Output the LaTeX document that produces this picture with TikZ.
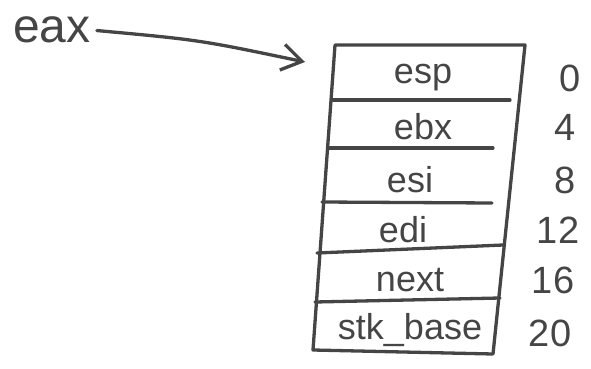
\documentclass[tikz,border=0pt]{standalone}
\usepackage{fontspec}
\setmainfont{Liberation Sans}
\usetikzlibrary{arrows.meta}
\definecolor{pen}{HTML}{454545}
\begin{document}
\begin{tikzpicture}[x=1pt,y=-1pt]
	\useasboundingbox (0,0) rectangle (591,369);
	\tikzstyle{field}=[inner sep=0pt, text=pen, font=\fontsize{36}{40}\selectfont]
	\tikzstyle{offset}=[inner sep=0pt, text=pen, font=\fontsize{38}{42}\selectfont]
	\tikzstyle{stroke}=[draw=pen, line width=3.3pt, line cap=round, line join=round]
	% register pointing to the struct
	\node[field, font=\fontsize{48}{52}\selectfont] (eax) at (52,30) {eax};
	\coordinate (tip) at (305,62);
	% box corners
	\coordinate (TL) at (335,45);
	\coordinate (TR) at (525,45);
	\coordinate (BR) at (493,354);
	\coordinate (BL) at (313,350);
	\draw[stroke] (TL) -- (TR) -- (BR) -- (BL) -- cycle;
	\draw[stroke] (333,100) -- (510,100);
	\draw[stroke] (328,148) -- (493,148);
	\draw[stroke] (322,202) -- (492,203);
	\draw[stroke] (317,253) -- (503,245);
	\draw[stroke] (315,302) -- (500,298);
	% fields
	\node[field] (esp) at (423,78) {esp};
	\node[field] (ebx) at (423,127) {ebx};
	\node[field] (esi) at (410,180) {esi};
	\node[field] (edi) at (403,230) {edi};
	\node[field] (next) at (410,280) {next};
	\node[field] (base) at (410,330) {stk\_base};
	% byte offsets
	\node[offset] (o0) at (570,78) {0};
	\node[offset] (o4) at (565,127) {4};
	\node[offset] (o8) at (565,180) {8};
	\node[offset] (o12) at (558,230) {12};
	\node[offset] (o16) at (553,280) {16};
	\node[offset] (o20) at (550,333) {20};
	\begin{scope}[stroke, shorten <=6pt, -{Straight Barb[length=20pt,width=26pt]}]
		\draw (eax.east) .. controls (200,40) .. (tip);
	\end{scope}
\end{tikzpicture}
\end{document}
